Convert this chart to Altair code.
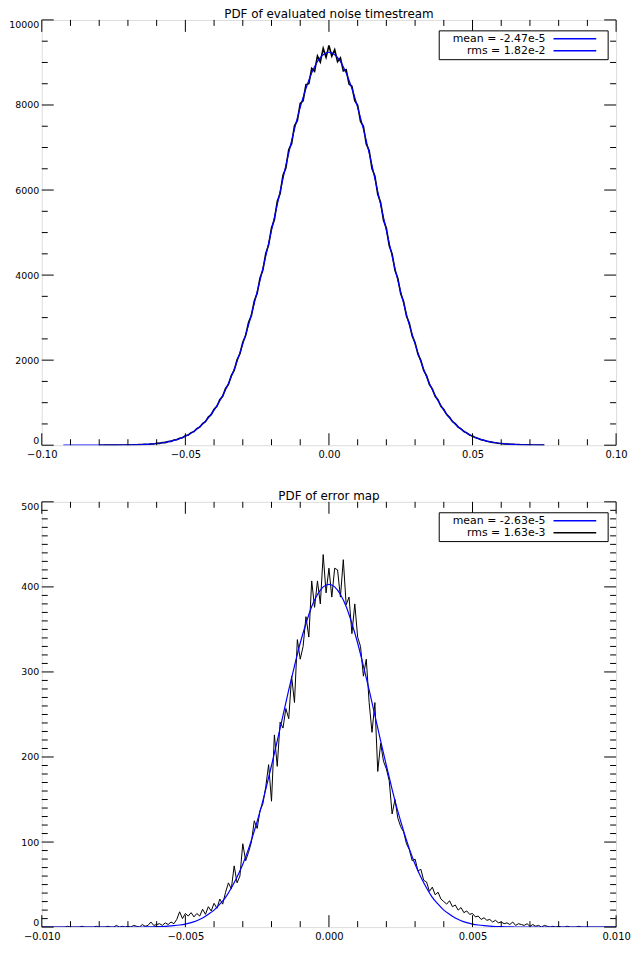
import altair as alt
import pandas as pd

W, H = 578, 428
FONT = "DejaVu Sans"
BLUE = "#0000ff"

# ---------------- top panel: PDF of evaluated noise timestream ----------------
TOP_TITLE = "PDF of evaluated noise timestream"
TOP_HIST_START = -0.080
TOP_HIST_BIN = 0.001
TOP_HIST = [1, 0, 1, 2, 1, 3, 2, 4, 3, 6,
            8, 5, 11, 9, 15, 13, 21, 18, 30, 27,
            44, 42, 63, 61, 88, 90, 121, 128, 165, 176,
            220, 238, 296, 318, 392, 425, 510, 555, 660, 718,
            845, 915, 1070, 1150, 1335, 1430, 1640, 1760, 2010, 2150,
            2420, 2580, 2885, 3050, 3390, 3570, 3930, 4120, 4510, 4710,
            5110, 5300, 5730, 5920, 6350, 6520, 6950, 7090, 7510, 7630,
            8040, 8100, 8480, 8500, 8860, 8790, 9150, 9010, 9330, 9120,
            9400,
            9150, 9300, 9020, 9110, 8800, 8830, 8490, 8440, 8100, 7990,
            7610, 7500, 7080, 6930, 6500, 6330, 5900, 5710, 5290, 5100,
            4690, 4500, 4110, 3920, 3560, 3380, 3040, 2870, 2570, 2410,
            2140, 1995, 1755, 1635, 1425, 1325, 1150, 1062, 915, 838,
            720, 655, 556, 506, 425, 386, 322, 291, 240, 217,
            178, 160, 129, 116, 93, 83, 66, 59, 46, 41,
            32, 29, 22, 20, 15, 14, 10, 9, 7, 6,
            5, 4, 3, 3, 2]
TOP_FIT_START = -0.0925
TOP_FIT_STEP = 0.0025
TOP_FIT = [0, 0, 0, 0, 0.3, 0.6, 1.1, 2, 3, 6, 9, 16, 25, 40, 63, 96, 144, 212, 306,
           434, 604, 826, 1105, 1451, 1874, 2384, 2949, 3606, 4299, 5052, 5809, 6579,
           7297, 7945, 8488, 8898, 9153,
           9240,
           9153, 8898, 8488, 7945, 7297, 6579, 5809, 5052, 4299, 3606, 2949, 2384, 1874,
           1451, 1105, 826, 604, 434, 306, 212, 144, 96, 63, 40, 25, 16, 9, 6, 3, 2]
TOP_LEGEND = [("mean = -2.47e-5", BLUE), ("rms = 1.82e-2", BLUE)]
TOP_XDOM = [-0.10, 0.10]
TOP_YDOM = [0, 10000]
TOP_X_MAJOR = [-0.10, -0.05, 0.0, 0.05, 0.10]
TOP_X_MINOR_STEP = 0.01
TOP_Y_MAJOR = [0, 2000, 4000, 6000, 8000, 10000]
TOP_Y_MINOR_STEP = 500

# ---------------- bottom panel: PDF of error map ----------------
BOT_TITLE = "PDF of error map"
BOT_HIST_START = -0.0100
BOT_HIST_BIN = 0.0001
BOT_HIST = [0, 0, 0, 0, 0, 0, 0, 0, 0, 1, 0, 0, 0, 0, 1, 0, 0, 0, 0, 1,
            0, 0, 0, 1, 0, 0, 2, 0, 1, 0,
            1, 0, 2, 1, 0, 3, 1, 2, 6, 2,
            3, 4, 2, 5, 3, 6, 4, 9, 18, 10,
            16, 13, 17, 12, 16, 13, 21, 15, 24, 19,
            28, 22, 33, 27, 41, 52, 45, 72, 52, 60,
            98, 78, 88, 100, 125, 116, 137, 145, 165, 191,
            148, 226, 189, 241, 234, 257, 245, 295, 264, 338,
            315, 330, 365, 341, 407, 376, 407, 380, 438, 393,
            422, 388, 422, 420, 388, 432, 379, 388, 345, 380,
            341, 330, 295, 315, 264, 229, 264, 183, 216, 195,
            186, 172, 133, 150, 128, 118, 112, 98, 91, 78,
            80, 66, 68, 55, 53, 42, 47, 38, 41, 33,
            30, 27, 31, 24, 26, 20, 23, 17, 19, 15,
            16, 12, 13, 9, 11, 8, 9, 6, 8, 5,
            6, 4, 5, 3, 6, 2, 4, 3, 2, 4,
            1, 3, 1, 2, 0, 2, 1, 0, 1, 0,
            1, 0, 0, 1, 0, 0, 0, 1, 0, 0,
            0, 0, 0, 0, 0, 0, 0, 0, 0, 0, 0]
BOT_FIT_START = -0.0100
BOT_FIT_STEP = 0.0002
BOT_FIT = [0, 0, 0, 0, 0, 0, 0, 0, 0, 0, 0, 0, 0, 0, 0,
           0, 0.1, 0.1, 0.2, 0.3, 0.5, 0.7, 1.1, 1.7, 2.5, 3.6, 5.3, 7.5, 10.6, 15,
           20, 27, 35, 46, 59, 74, 92, 113, 136, 162, 190, 219, 249, 279, 307,
           334, 357, 377, 391, 400,
           403,
           400, 391, 377, 357, 334,
           307, 279, 249, 219, 190, 162, 136, 113, 92, 74, 59, 46, 35, 27, 20,
           15, 10.6, 7.5, 5.3, 3.6, 2.5, 1.7, 1.1, 0.7, 0.5, 0.3, 0.2, 0.1, 0.1, 0,
           0, 0, 0, 0, 0, 0, 0, 0, 0, 0, 0, 0, 0, 0, 0]
BOT_LEGEND = [("mean = -2.63e-5", BLUE), ("rms = 1.63e-3", "black")]
BOT_XDOM = [-0.010, 0.010]
BOT_YDOM = [0, 500]
BOT_X_MAJOR = [-0.010, -0.005, 0.0, 0.005, 0.010]
BOT_X_MINOR_STEP = 0.001
BOT_Y_MAJOR = [0, 100, 200, 300, 400, 500]
BOT_Y_MINOR_STEP = 10


def minor_ticks(dom, step, majors):
    n = int(round((dom[1] - dom[0]) / step))
    vals = [round(dom[0] + i * step, 6) for i in range(n + 1)]
    return [v for v in vals if all(abs(v - m) > step * 1e-3 for m in majors)]


def panel(title, hist_start, hist_bin, hist, fit_start, fit_step, fit, legend,
          xdom, ydom, xmaj, xminstep, ymaj, yminstep, xfmt, hist_width):
    xs = alt.Scale(domain=xdom, nice=False, zero=False)
    ys = alt.Scale(domain=ydom, nice=False, zero=False)
    hist_df = pd.DataFrame({"x": [round(hist_start + i * hist_bin, 6) for i in range(len(hist))],
                            "y": hist})
    fit_df = pd.DataFrame({"x": [round(fit_start + i * fit_step, 6) for i in range(len(fit))],
                           "y": fit})
    xaxis = alt.Axis(values=xmaj, format=xfmt, ticks=False, domain=False, grid=False,
                     labelFont=FONT, labelFontSize=10, labelColor="black", labelPadding=4,
                     labelFlush=False, labelOverlap=False, title=None)
    yaxis = alt.Axis(values=ymaj, format="d", ticks=False, domain=False, grid=False,
                     labelFont=FONT, labelFontSize=9.5, labelColor="black", labelPadding=3,
                     labelFlush=True, labelOverlap=False, title=None)
    layers = []
    layers.append(alt.Chart(hist_df).mark_line(color="black", strokeWidth=hist_width, clip=True).encode(
        x=alt.X("x:Q", scale=xs, axis=xaxis), y=alt.Y("y:Q", scale=ys, axis=yaxis)))
    layers.append(alt.Chart(fit_df).mark_line(color=BLUE, strokeWidth=1.2, interpolate="monotone",
                                              clip=True).encode(
        x=alt.X("x:Q", scale=xs, axis=xaxis), y=alt.Y("y:Q", scale=ys, axis=yaxis)))
    # inward ticks on all four sides
    xmin = minor_ticks(xdom, xminstep, xmaj)
    ymin = minor_ticks(ydom, yminstep, ymaj)
    for vals, L in ((xmaj, 12), (xmin, 6)):
        d = pd.DataFrame({"x": vals})
        layers.append(alt.Chart(d).mark_rule(color="black", strokeWidth=1).encode(
            x=alt.X("x:Q", scale=xs, axis=xaxis), y=alt.value(H - L), y2=alt.value(H)))
        layers.append(alt.Chart(d).mark_rule(color="black", strokeWidth=1).encode(
            x=alt.X("x:Q", scale=xs, axis=xaxis), y=alt.value(0), y2=alt.value(L)))
    for vals, L in ((ymaj, 12), (ymin, 6)):
        d = pd.DataFrame({"y": vals})
        layers.append(alt.Chart(d).mark_rule(color="black", strokeWidth=1).encode(
            y=alt.Y("y:Q", scale=ys, axis=yaxis), x=alt.value(0), x2=alt.value(L)))
        layers.append(alt.Chart(d).mark_rule(color="black", strokeWidth=1).encode(
            y=alt.Y("y:Q", scale=ys, axis=yaxis), x=alt.value(W - L), x2=alt.value(W)))
    # legend box (top-right corner of the plot)
    one = alt.Data(values=[{"a": 1}])
    layers.append(alt.Chart(one).mark_rect(fill="white", stroke="black", strokeWidth=1).encode(
        x=alt.value(W - 178), x2=alt.value(W - 8), y=alt.value(11), y2=alt.value(40)))
    for i, (txt, col) in enumerate(legend):
        yy = 19 + 12 * i
        layers.append(alt.Chart(one).mark_text(align="right", baseline="middle", font=FONT,
                                               fontSize=11, color="black").encode(
            x=alt.value(W - 71), y=alt.value(yy), text=alt.value(txt)))
        layers.append(alt.Chart(one).mark_rule(color=col, strokeWidth=1.5).encode(
            x=alt.value(W - 63), x2=alt.value(W - 20), y=alt.value(yy)))
    return alt.layer(*layers).properties(
        width=W, height=H,
        title=alt.TitleParams(title, font=FONT, fontSize=12, fontWeight="normal",
                              color="black", offset=-2, anchor="middle"))


top = panel(TOP_TITLE, TOP_HIST_START, TOP_HIST_BIN, TOP_HIST, TOP_FIT_START, TOP_FIT_STEP,
            TOP_FIT, TOP_LEGEND, TOP_XDOM, TOP_YDOM, TOP_X_MAJOR, TOP_X_MINOR_STEP,
            TOP_Y_MAJOR, TOP_Y_MINOR_STEP, ".2f", 1.6)
bottom = panel(BOT_TITLE, BOT_HIST_START, BOT_HIST_BIN, BOT_HIST, BOT_FIT_START, BOT_FIT_STEP,
               BOT_FIT, BOT_LEGEND, BOT_XDOM, BOT_YDOM, BOT_X_MAJOR, BOT_X_MINOR_STEP,
               BOT_Y_MAJOR, BOT_Y_MINOR_STEP, ".3f", 1.0)

chart = alt.vconcat(top, bottom, spacing=30).properties(
    padding={"left": 0, "top": -3, "right": 0, "bottom": 0}
).configure_view(stroke="black", strokeWidth=1).configure(background="white")

chart.save("out.html", embed_options={"renderer": "svg", "actions": False})
